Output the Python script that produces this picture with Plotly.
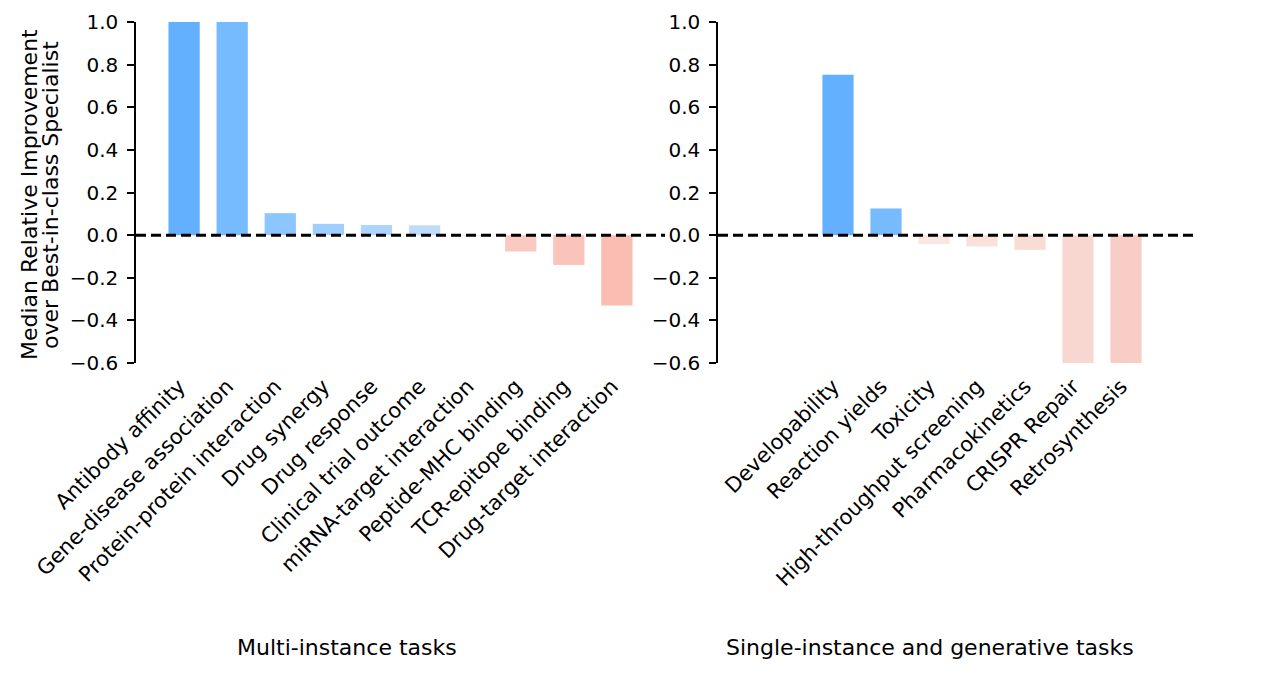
import plotly.graph_objects as go

# --- data ---
multi_tasks = ['Antibody affinity', 'Gene-disease association', 'Protein-protein interaction',
               'Drug synergy', 'Drug response', 'Clinical trial outcome',
               'miRNA-target interaction', 'Peptide-MHC binding', 'TCR-epitope binding',
               'Drug-target interaction']
multi_values = [1.0, 1.0, 0.103, 0.053, 0.047, 0.046, -0.003, -0.077, -0.14, -0.33]

single_tasks = ['Developability', 'Reaction yields', 'Toxicity', 'High-throughput screening',
                'Pharmacokinetics', 'CRISPR Repair', 'Retrosynthesis']
single_values = [0.752, 0.125, -0.042, -0.053, -0.069, -0.6, -0.6]

y_ticks = [-0.6, -0.4, -0.2, 0.0, 0.2, 0.4, 0.6, 0.8, 1.0]

# bar colours (blue = better, pink = worse)
multi_colors = ['rgb(98,176,255)', 'rgb(119,187,255)', 'rgb(140,197,255)', 'rgb(160,206,255)',
                'rgb(173,213,255)', 'rgb(191,221,250)', 'rgb(252,232,228)', 'rgb(250,202,194)',
                'rgb(250,196,187)', 'rgb(250,189,178)']
single_colors = ['rgb(98,176,255)', 'rgb(119,187,255)', 'rgb(250,230,226)', 'rgb(249,225,220)',
                 'rgb(249,220,214)', 'rgb(249,215,209)', 'rgb(248,205,198)']

# page has an 8px body margin, so the figure is a bit smaller and shifted
OFF = 8
W, H = 1263 - OFF, 673 - OFF
FONT = 'DejaVu Sans'


def px_x(p):
    return (p - OFF) / W


def px_y(p):
    return 1 - (p - OFF) / H


fig = go.Figure()
fig.add_bar(x=multi_tasks, y=multi_values, marker_color=multi_colors, width=0.65,
            marker_line_width=0, xaxis='x', yaxis='y', showlegend=False)
fig.add_bar(x=single_tasks, y=single_values, marker_color=single_colors, width=0.65,
            marker_line_width=0, xaxis='x2', yaxis='y2', showlegend=False)

yax = dict(range=[-0.6, 1.0], tickvals=y_ticks, tickformat='.1f', showline=True,
           linecolor='black', linewidth=1.5, ticks='outside', ticklen=7, tickwidth=1.5,
           tickcolor='black', showgrid=False, zeroline=False, automargin=False,
           ticklabelstandoff=5,
           tickfont=dict(family=FONT, size=20, color='black'),
           domain=[px_y(363), px_y(22)])
xax = dict(type='category', showline=False, ticks='', showgrid=False, zeroline=False,
           automargin=False, tickangle=-45, ticklabelstandoff=6, ticklabelshift=-5,
           tickfont=dict(family=FONT, size=21, color='black'))

fig.update_layout(
    width=W, height=H,
    margin=dict(l=0, r=0, t=0, b=0),
    plot_bgcolor='white', paper_bgcolor='white',
    xaxis=dict(xax, domain=[px_x(136), px_x(665)], range=[-1, 10], anchor='y'),
    yaxis=dict(yax, anchor='x'),
    xaxis2=dict(xax, domain=[px_x(718), px_x(1198)], range=[-2.5, 7.5], anchor='y2'),
    yaxis2=dict(yax, anchor='x2'),
)

# zero reference lines
for xr, yr in [('x domain', 'y'), ('x2 domain', 'y2')]:
    fig.add_shape(type='line', xref=xr, yref=yr, x0=0, x1=1, y0=0, y1=0,
                  line=dict(color='black', width=3, dash='10px,5px'))

# panel titles and y label (two lines, tight spacing like the original)
fig.add_annotation(text='Multi-instance tasks', xref='paper', yref='paper',
                   x=px_x(347), y=px_y(647), xanchor='center', yanchor='middle',
                   showarrow=False, font=dict(family=FONT, size=22, color='black'))
fig.add_annotation(text='Single-instance and generative tasks', xref='paper', yref='paper',
                   x=px_x(930), y=px_y(647), xanchor='center', yanchor='middle',
                   showarrow=False, font=dict(family=FONT, size=22, color='black'))
for line, xpos in [('Median Relative Improvement', 29), ('over Best-in-class Specialist', 50)]:
    fig.add_annotation(text=line, xref='paper', yref='paper', x=px_x(xpos), y=px_y(195),
                       textangle=-90, xanchor='center', yanchor='middle', showarrow=False,
                       font=dict(family=FONT, size=22, color='black'))

fig.write_html("out.html")
